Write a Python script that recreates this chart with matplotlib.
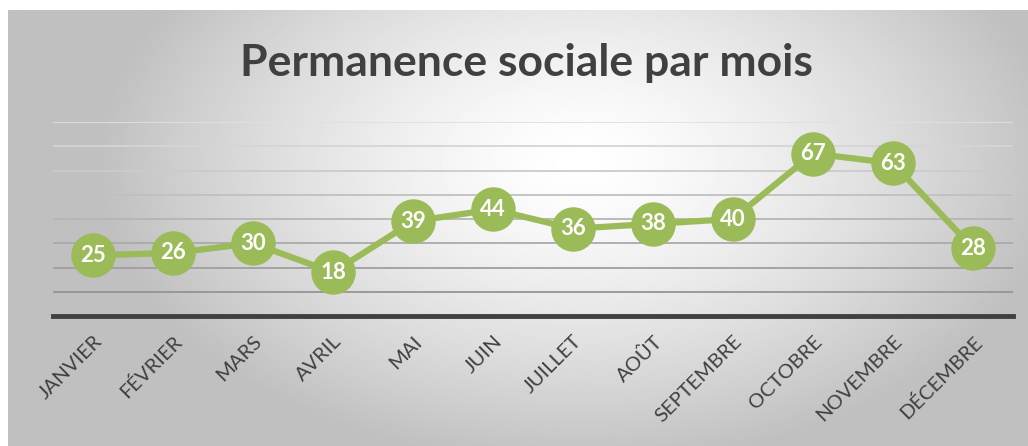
import numpy as np
import matplotlib.pyplot as plt

# donnees
mois = ['JANVIER', 'FÉVRIER', 'MARS', 'AVRIL', 'MAI', 'JUIN', 'JUILLET',
        'AOÛT', 'SEPTEMBRE', 'OCTOBRE', 'NOVEMBRE', 'DÉCEMBRE']
valeurs = [25, 26, 30, 18, 39, 44, 36, 38, 40, 67, 63, 28]

vert = '#9bbb59'
gris_texte = '#404040'

fig = plt.figure(figsize=(10.28, 4.46), dpi=100)
fig.patch.set_facecolor('white')

# fond en degrade radial
bg = fig.add_axes([8 / 1028, 0, 1 - 8 / 1028, 1 - 10 / 446])
gx, gy = np.meshgrid(np.linspace(-1, 1, 600), np.linspace(-1, 1, 300))
d = np.sqrt(((gx - 0.12) / 0.95) ** 2 + ((gy + 0.3) / 1.4) ** 2)
d = np.clip(d, 0, 1)
bg.imshow(1 - 0.25 * d ** 1.4, cmap='gray', vmin=0, vmax=1,
          aspect='auto', extent=[0, 1, 0, 1], origin='upper')
bg.axis('off')

# zone du graphique
ax = fig.add_axes([53 / 1028, 1 - 316 / 446, 960 / 1028, (316 - 122) / 446])
ax.set_facecolor('none')
x = np.arange(len(mois))
ax.set_xlim(-0.5, len(mois) - 0.5)
ax.set_ylim(0, 80)
for v in range(10, 81, 10):
    g = 0.58 + 0.3 * (v - 10) / 70
    ax.axhline(v, color=(g, g, g), lw=1.3, zorder=1)
ax.axhline(0, color='#404040', lw=3.5, zorder=2, clip_on=False)

ax.plot(x, valeurs, color=vert, lw=4.5, marker='o', markersize=31,
        markerfacecolor=vert, markeredgecolor=vert, zorder=3, clip_on=False)
for xi, v in zip(x, valeurs):
    ax.text(xi, v, str(v), ha='center', va='center', color='white',
            fontsize=16, fontweight='bold', family='Lato', zorder=4)

for s in ax.spines.values():
    s.set_visible(False)
ax.set_yticks([])
ax.set_xticks(x)
ax.set_xticklabels(mois, rotation=45, ha='right', rotation_mode='anchor',
                   fontsize=14.5, color=gris_texte, family='Lato')
ax.tick_params(axis='x', length=0, pad=12)
for lab in ax.get_xticklabels():
    lab.set_x(lab.get_position()[0] + 0.05)

fig.text(526 / 1028, 1 - 63 / 446, 'Permanence sociale par mois', ha='center',
         va='center', fontsize=32, fontweight='bold', color=gris_texte,
         family='Lato')

plt.savefig('out.png', dpi=100)
